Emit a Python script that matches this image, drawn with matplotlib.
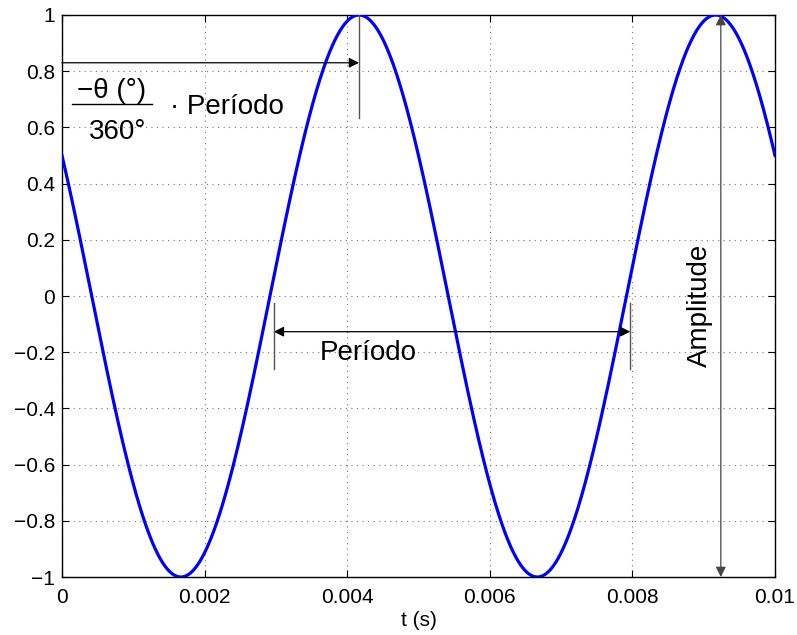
import numpy as np
import matplotlib
matplotlib.use("Agg")
import matplotlib.pyplot as plt

# Signal parameters
AMPLITUDE = 1.0
FREQ_HZ = 200.0
PHASE_DEG = 60.0
T_END = 0.01

# Axis ticks
x_ticks = [0, 0.002, 0.004, 0.006, 0.008, 0.01]
x_tick_labels = ["0", "0.002", "0.004", "0.006", "0.008", "0.01"]
y_ticks = [-1, -0.8, -0.6, -0.4, -0.2, 0, 0.2, 0.4, 0.6, 0.8, 1]

# Annotation anchors (time, value)
phase_arrow_y = 0.83
phase_tick_bottom = 0.635
period_start = 0.00297
period_arrow_y = -0.127
period_tick_span = (-0.025, -0.26)
amplitude_x = 0.00924

plt.rcParams["font.family"] = ["Liberation Sans", "DejaVu Sans"]
plt.rcParams["axes.unicode_minus"] = True

period = 1.0 / FREQ_HZ
t_peak = (360.0 - PHASE_DEG) / 360.0 * period
t = np.linspace(0, T_END, 2000)
y = AMPLITUDE * np.cos(2 * np.pi * FREQ_HZ * t + np.deg2rad(PHASE_DEG))

fig = plt.figure(figsize=(7.97, 6.35), dpi=100)
ax = fig.add_axes([0.0778, 0.0913, 0.8946, 0.8851])

ax.plot(t, y, color="#0000ff", linewidth=2.3, zorder=3)

ax.set_xlim(0, T_END)
ax.set_ylim(-1, 1)
ax.set_xticks(x_ticks)
ax.set_xticklabels(x_tick_labels)
ax.set_yticks(y_ticks)
ax.set_yticklabels([("\u2212" if v < 0 else "") + f"{abs(v):g}" for v in y_ticks])
ax.tick_params(direction="in", length=5, width=0.8, top=True, right=True,
               labelsize=15)
ax.tick_params(axis="x", pad=8)
ax.tick_params(axis="y", pad=5)
ax.grid(True, color="#777777", linestyle=(0, (1, 4)), linewidth=0.8)
for s in ax.spines.values():
    s.set_linewidth(1.0)
ax.set_xlabel("t (s)", fontsize=15, labelpad=3)

arrow = dict(arrowstyle="-|>", color="black", lw=0.9,
             mutation_scale=15, shrinkA=0, shrinkB=0)

# Phase shift: arrow from origin to the first peak
ax.annotate("", xy=(t_peak, phase_arrow_y), xytext=(0, phase_arrow_y),
            arrowprops=arrow, zorder=4)
ax.plot([t_peak, t_peak], [1, phase_tick_bottom], color="#555555", lw=1.0, zorder=4)

ax.text(0.0007, 0.728, "\u2212\u03b8 (\u00b0)", fontsize=20, ha="center", va="center")
ax.plot([0.00014, 0.00126], [0.683, 0.683], color="black", lw=1.0)
ax.text(0.00078, 0.585, "360\u00b0", fontsize=20, ha="center", va="center")
ax.text(0.00152, 0.672, "\u00b7 Per\u00edodo", fontsize=20, ha="left", va="center")

# Period: double arrow between two rising zero crossings
period_end = period_start + period
ax.annotate("", xy=(period_end, period_arrow_y), xytext=(period_start, period_arrow_y),
            arrowprops=dict(arrow, arrowstyle="<|-|>"), zorder=4)
for x0 in (period_start, period_end):
    ax.plot([x0, x0], list(period_tick_span), color="#555555", lw=1.0, zorder=4)
ax.text(0.00429, -0.203, "Per\u00edodo", fontsize=20, ha="center", va="center")

# Amplitude: double arrow spanning the full swing
ax.annotate("", xy=(amplitude_x, -AMPLITUDE), xytext=(amplitude_x, AMPLITUDE),
            arrowprops=dict(arrow, arrowstyle="<|-|>", color="#444444"), zorder=4)
ax.text(0.00895, -0.032, "Amplitude", fontsize=20, rotation=90,
        ha="center", va="center")

fig.savefig("out.png", dpi=100)
